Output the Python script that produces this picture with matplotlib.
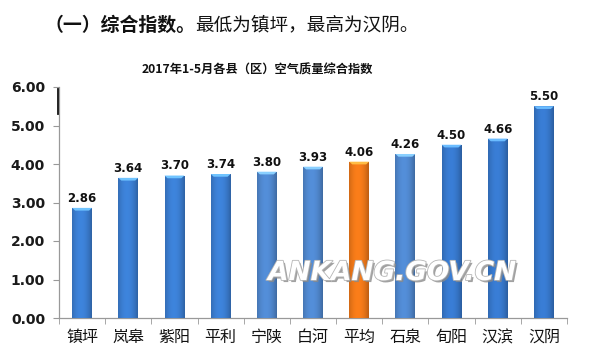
import matplotlib
matplotlib.use("Agg")
import matplotlib.pyplot as plt
import matplotlib.patheffects as pe
import numpy as np

categories = ["镇坪", "岚皋", "紫阳", "平利", "宁陕", "白河", "平均", "石泉", "旬阳", "汉滨", "汉阴"]
values = [2.86, 3.64, 3.70, 3.74, 3.80, 3.93, 4.06, 4.26, 4.50, 4.66, 5.50]
bar_colors = ["#3b7ed2", "#3b7ed2", "#3b7ed2", "#3b7ed2", "#5088cf", "#5088cf",
              "#f07818", "#5088cf", "#3778cc", "#3778cc", "#3778cc"]
yticks = [0, 1, 2, 3, 4, 5, 6]

plt.rcParams['font.family'] = ['Noto Sans CJK SC', 'DejaVu Sans']

fig = plt.figure(figsize=(5.98, 3.62), dpi=100)
W, H = 598, 362
ax = fig.add_axes([59 / W, (H - 318) / H, (567 - 59) / W, (318 - 87) / H])

x = np.arange(len(categories))
bw = 0.43
bars = ax.bar(x, values, width=bw, color=bar_colors, zorder=2)

# horizontal shading gradient on each bar
t = np.linspace(0, 1, 64)
shade = 1.05 - 0.9 * (t - 0.45) ** 2
for b, c in zip(bars, bar_colors):
    rgb = np.array(matplotlib.colors.to_rgb(c))
    img = np.clip(rgb[None, None, :] * shade[None, :, None], 0, 1)
    x0, w, h = b.get_x(), b.get_width(), b.get_height()
    im = ax.imshow(img, extent=[x0, x0 + w, 0, h], aspect='auto', zorder=3,
                   interpolation='bilinear')
    im.set_clip_path(b)
    # light bevel at the top
    hl = np.clip(rgb * 1.25 + 0.15, 0, 1)
    ax.fill([x0, x0 + w, x0 + w * 0.85, x0 + w * 0.15], [h, h, h - 0.07, h - 0.07],
            color=hl, lw=0, zorder=4)

for xi, v in zip(x, values):
    ax.text(xi, v + 0.08, f"{v:.2f}", ha='center', va='bottom', fontsize=8.5,
            fontweight='bold', color='#111111', family='DejaVu Sans', zorder=5)

ax.set_xlim(-0.5, len(categories) - 0.5)
ax.set_ylim(0, 6)
ax.set_yticks(yticks)
ax.set_yticklabels([f"{t:.2f}" for t in yticks], fontsize=10, fontweight='bold',
                   family='DejaVu Sans', color='#1a1a1a')
ax.set_xticks(x)
ax.set_xticklabels(categories, fontsize=11.5, color='#111111')
ax.set_xticks(np.arange(-0.5, len(categories)), minor=True)
ax.tick_params(axis='x', which='major', length=0, pad=8)
ax.tick_params(axis='x', which='minor', length=4, color='#999999', direction='out')
ax.tick_params(axis='y', length=4, color='#999999', direction='out', pad=6)

for s in ['top', 'right']:
    ax.spines[s].set_visible(False)
for s in ['left', 'bottom']:
    ax.spines[s].set_color('#999999')
    ax.spines[s].set_linewidth(0.9)

# dark mark near top of y axis (as in reference)
ax.plot([-0.52, -0.52], [5.3, 5.95], color='#111111', lw=1.3, clip_on=False, zorder=6)

fig.text(257 / W, 1 - 70 / H, "2017年1-5月各县（区）空气质量综合指数", ha='center', va='center',
         fontsize=8.8, fontweight='bold', color='#111111')

t1 = fig.text(44 / W, 1 - 25 / H, "（一）综合指数。", ha='left', va='center',
              fontsize=13.6, fontweight='bold', color='#111111')
fig.canvas.draw()
bb = t1.get_window_extent()
fig.text(bb.x1 / W, 1 - 25 / H, "最低为镇坪，最高为汉阴。", ha='left', va='center',
         fontsize=13.4, color='#111111')

fig.text(392 / W, 1 - 273 / H, "ANKANG.GOV.CN", ha='center', va='center', fontsize=19,
         fontweight='bold', style='italic', color='white', family='DejaVu Sans',
         path_effects=[pe.withSimplePatchShadow(offset=(1.5, -1.5), shadow_rgbFace='#8a8a8a', alpha=0.8),
                       pe.withStroke(linewidth=1.2, foreground='#b5b5b5')], zorder=10)

fig.savefig("out.png", dpi=100)
